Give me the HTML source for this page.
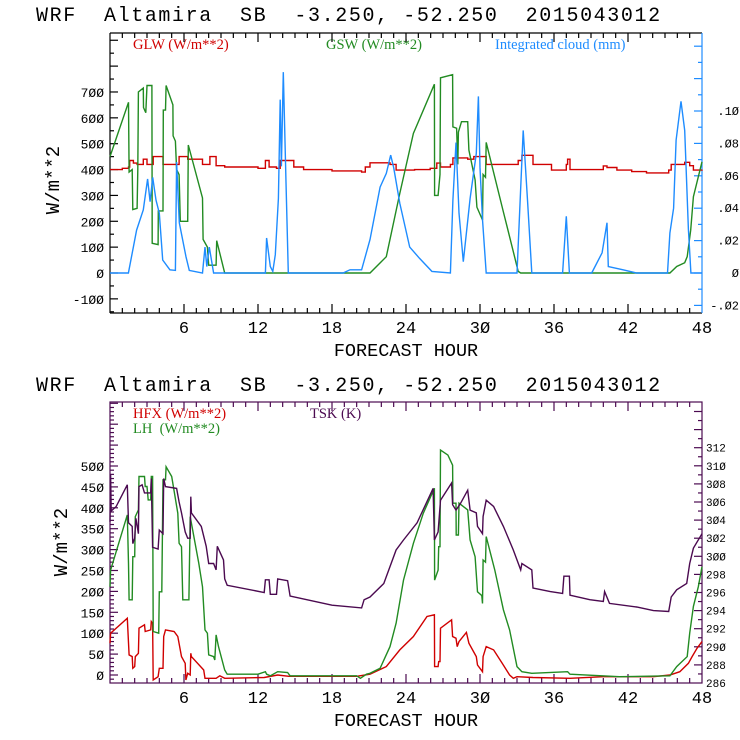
<!DOCTYPE html>
<html><head><meta charset="utf-8"><style>
html,body{margin:0;padding:0;background:#fff;}
svg{display:block;}
text{white-space:pre;}
.t{font-family:"Liberation Mono",monospace;}
.s{font-family:"Liberation Serif",serif;}
</style></head><body>
<svg id="c" width="740" height="740" viewBox="0 0 740 740" xmlns="http://www.w3.org/2000/svg" xml:space="preserve">
<rect width="740" height="740" fill="#fff"/>
<text class="t" x="36" y="21" font-size="20" letter-spacing="1.6" fill="#000">WRF  Altamira  SB  -3.250, -52.250  2015043012</text>
<text class="t" x="36" y="391" font-size="20" letter-spacing="1.6" fill="#000">WRF  Altamira  SB  -3.250, -52.250  2015043012</text>
<text class="s" x="133" y="49" font-size="14.5" fill="#d00000">GLW (W/m**2)</text>
<text class="s" x="326" y="49" font-size="14.5" fill="#228b22">GSW (W/m**2)</text>
<text class="s" x="495" y="49" font-size="14.5" fill="#1e8cff">Integrated cloud (mm)</text>
<text class="s" x="133" y="418" font-size="14.5" fill="#d00000">HFX (W/m**2)</text>
<text class="s" x="133" y="433" font-size="14.5" fill="#228b22">LH  (W/m**2)</text>
<text class="s" x="310" y="418" font-size="14.5" fill="#4b0a50">TSK (K)</text>
<text class="t" font-size="19" transform="translate(59,180) rotate(-90)" text-anchor="middle" fill="#000">W/m**2</text>
<text class="t" font-size="19" transform="translate(67,542) rotate(-90)" text-anchor="middle" fill="#000">W/m**2</text>
<text class="t" x="406" y="356" font-size="18.5" text-anchor="middle" fill="#000">FORECAST HOUR</text>
<text class="t" x="406" y="726" font-size="18.5" text-anchor="middle" fill="#000">FORECAST HOUR</text>
<g id="g"></g>
</svg>
<script>
// ---- top chart data ----
const glwHours = [0,1.0,1.5,1.6,1.9,2.2,2.7,3.0,3.5,4.3,5.6,6.3,7.5,8.1,8.6,9.3,12.0,12.6,12.9,13.5,13.8,14.9,15.7,18,20.4,20.7,21.08,22.7,23.2,24.7,25.96,26.5,26.8,27.6,27.8,29.0,29.5,30.5,33.1,33.4,34.3,35.8,37.0,37.1,37.3,40.0,40.3,41.1,42.3,43.5,45.3,45.5,46.6,47.0,47.3,48];
const glwValues = [400,405,410,435,425,420,440,420,450,420,450,440,420,450,415,410,405,435,410,405,435,410,400,395,390,410,426,420,398,400,405,425,410,420,445,440,450,420,435,455,420,398,420,440,400,414,408,398,392,387,398,420,428,415,398,400];
const gswHours = [0,1.5,1.55,1.8,1.85,2.2,2.25,2.3,2.7,2.72,2.9,3.0,3.4,3.42,3.9,3.92,4.3,4.32,4.5,4.55,5.1,5.12,5.3,5.4,5.6,5.7,6.3,6.35,7.5,7.55,7.9,8.0,8.6,8.65,9.3,21.08,22.4,23.5,24.6,26.3,26.32,26.6,26.76,26.8,27.78,27.8,28.1,28.2,28.25,28.5,29.0,29.1,29.6,29.75,30.2,30.25,30.45,30.5,31.9,32.3,33.1,33.3,45.4,45.95,46.6,46.8,47.08,47.3,48];
const gswValues = [450,660,390,400,245,250,400,700,715,640,620,725,725,115,110,240,240,630,630,725,650,530,510,400,380,200,200,495,290,130,100,30,30,125,0,0,63,308,540,730,300,300,381,755,767,565,560,420,545,585,585,475,360,255,205,381,370,505,236,159,6,0,0,25,40,63,166,295,430];
const cloudHours = [0,1.49,2.16,2.7,3.05,3.25,3.46,3.73,4.0,4.27,4.86,5.3,5.4,5.62,6.16,6.43,7.5,7.7,7.85,8.05,8.4,12.6,12.7,13.0,13.2,13.4,13.65,13.8,13.9,14.05,14.27,14.46,18.9,19.46,20.4,21.08,21.9,22.4,22.76,23.0,23.5,24.3,25.1,26.1,27.6,27.8,28.05,28.3,28.65,29.2,29.7,29.87,30.0,30.2,30.5,33.0,33.5,33.85,34.2,36.7,37.0,37.25,39.06,39.9,40.3,40.4,41.6,42.7,45.2,45.4,45.7,45.9,46.3,46.6,46.9,47.1,48];
const cloudValues = [0,0,0.0265,0.039,0.058,0.044,0.059,0.045,0.037,0.008,0.002,0.0016,0.0685,0.031,0.010,0.0016,0,0.016,0.004,0.016,0,0,0.0216,0.004,0.001,0.0113,0.046,0.107,0.0658,0.124,0.056,0,0,0.002,0.002,0.0206,0.053,0.0615,0.0728,0.065,0.043,0.016,0.009,0.001,0,0.045,0.0805,0.037,0.007,0.046,0.0738,0.109,0.065,0.033,0,0,0.088,0.045,0,0,0.035,0,0,0.0125,0.031,0.004,0.002,0,0,0.0247,0.04,0.082,0.106,0.088,0.027,0,0];
const topLeftTicks = [-100,0,100,200,300,400,500,600,700];
const topRightTicks = [-0.02,0,0.02,0.04,0.06,0.08,0.10];
const topRightLabels = ['-.02','0','.02','.04','.06','.08','.10'];
const xTickHours = [6,12,18,24,30,36,42,48];
// ---- bottom chart data ----
const tskHours = [0,0.05,0.1,0.5,1.4,1.5,1.8,1.85,2.0,2.1,2.3,2.35,2.6,2.8,3.3,3.35,3.45,3.9,4.0,4.3,4.35,4.5,5.4,5.6,5.8,6.1,6.3,6.5,6.55,6.6,7.4,7.8,8.0,8.4,8.6,8.7,9.2,9.3,9.5,12.5,12.6,12.9,13.0,13.5,13.6,14.4,14.6,18,20.4,20.6,21.08,22.2,23.2,23.8,24.9,26.2,26.3,26.6,26.8,27.7,27.78,28.05,28.4,29.0,29.2,29.7,29.8,30.2,30.25,30.5,31.1,31.9,32.7,33.3,33.4,34.2,34.3,35.7,36.7,36.8,37.25,37.3,38.9,40.0,40.1,40.5,42.7,44.06,45.3,45.5,45.95,46.76,47.0,47.3,48];
const tskValues = [303.8,309.0,305,305.5,307.9,303.7,303.3,301.4,302.0,304.2,302.5,307.7,307.9,307.0,307.0,308.6,301.0,300.8,302.9,302.5,308.6,307.7,307.5,306.0,304.8,302.7,302.0,302.0,306.6,304.8,303.3,301.1,299.2,299.2,298.5,301.1,299.6,297.5,296.8,296.0,297.4,297.4,295.8,295.8,297.5,297.3,295.6,294.6,294.3,295.2,295.5,297.0,300.7,301.8,303.7,307.5,301.8,302.7,306.2,308.1,305.7,305.1,305.8,307.3,305.1,304.8,303.3,302.5,304.4,306.2,305.5,303.3,300.7,298.5,299.2,298.5,296.5,296.1,295.9,297.8,297.8,295.7,295.2,295.0,296.1,294.8,294.4,294.0,293.9,295.5,296.3,297.0,299.2,300.9,302.5];
const lhHours = [0,0.05,1.4,1.5,1.55,1.8,1.85,2.0,2.05,2.3,2.35,2.8,2.85,3.0,3.1,3.3,3.35,3.45,3.5,3.95,4.0,4.2,4.3,4.5,4.55,5.0,5.5,5.6,5.8,5.9,6.4,6.5,7.2,7.5,7.7,7.9,8.0,8.4,8.5,8.6,8.8,9.3,9.5,12.0,12.6,12.7,13.0,13.6,14.4,14.6,20,20.3,20.8,21.08,21.9,22.7,23.2,23.8,24.6,25.4,26.3,26.32,26.6,26.65,26.76,26.8,27.4,27.78,27.8,28.05,28.07,28.25,28.3,29.0,29.2,29.6,29.8,30.15,30.2,30.25,30.45,30.5,31.2,31.9,32.4,33.0,33.4,34.2,37.1,37.3,41.3,45.4,45.95,46.8,47.0,47.3,47.7,48];
const lhValues = [211,251,383,267,180,180,283,283,379,395,475,475,451,451,419,419,475,475,104,100,199,199,467,467,498,475,387,315,307,180,180,379,267,211,108,100,48,44,36,96,68,12,2,2,8,2,-2,8,6,-2,-2,-8,2,4,16,68,124,227,315,387,447,227,251,307,307,538,526,502,411,411,335,335,411,395,323,283,199,190,171,275,270,331,251,156,108,20,8,4,8,2,-4,-2,20,44,100,164,211,259];
const hfxHours = [0,0.05,1.4,1.55,1.8,1.85,2.0,2.05,2.3,2.35,2.8,2.85,3.3,3.35,3.45,3.5,3.9,4.0,4.3,4.35,4.5,5.2,5.5,5.8,6.1,6.15,6.3,6.5,6.55,6.6,7.6,7.7,8.6,8.9,9.3,12.5,13.6,14.5,20,21.08,22.4,23.5,24.6,25.7,26.3,26.32,26.6,26.65,26.76,26.8,27.7,27.78,28.05,28.15,28.3,28.9,29.1,29.7,29.8,30.2,30.25,30.5,31.1,31.8,32.4,32.7,33.0,34.3,37.3,40,44.06,45.4,46.2,46.9,47.2,47.6,48];
const hfxValues = [76,100,136,48,44,16,20,44,52,112,120,104,108,128,124,-12,-4,16,16,92,108,104,92,44,28,-12,4,0,52,44,12,-8,-8,-2,-8,-6,0,-3,-3,2,20,60,92,140,144,20,20,32,32,112,132,92,88,68,80,102,76,44,24,8,44,68,60,28,0,-8,-4,-6,-8,-4,-4,0,8,28,44,64,80];
const botLeftTicks = [0,50,100,150,200,250,300,350,400,450,500];
const botRightTicks = [286,288,290,292,294,296,298,300,302,304,306,308,310,312];

const L=110,R=702;
function xAx(h){return L+h*(R-L)/48;}
function yTopL(v){return 273-v*0.2586;}
function yTopR(m){return 273-m*1620;}
function yBotL(v){return 675-v*0.418;}
function yBotR(k){return 683-(k-286)*9.05;}
const NS='http://www.w3.org/2000/svg';
const g=document.getElementById('g');
function mk(tag,attrs){const e=document.createElementNS(NS,tag);for(const k in attrs)e.setAttribute(k,attrs[k]);g.appendChild(e);return e;}
function line(x1,y1,x2,y2,c){return mk('line',{x1:x1,y1:y1,x2:x2,y2:y2,stroke:c,'stroke-width':1.2});}
function txt(x,y,s,size,anchor,c){const e=mk('text',{x:x,y:y,'font-size':size,'text-anchor':anchor,fill:c,class:'t'});e.textContent=s;return e;}
function path(hs,vs,fx,fy,c,step){let d='';for(let i=0;i<hs.length;i++){const x=fx(hs[i]).toFixed(1),y=fy(vs[i]).toFixed(1);if(i===0)d='M'+x+','+y;else if(step){d+='H'+x+'V'+y;}else d+='L'+x+','+y;}return mk('path',{d:d,fill:'none',stroke:c,'stroke-width':1.4,'stroke-linejoin':'miter'});}

// ---- top frame ----
let e;
e=line(L,33,L,313,'#000');


e=line(L,33,R,33,'#000');


e=line(L,313,R,313,'#000');


e=line(R,33,R,313,'#1e8cff');


for(let h=1;h<48;h++){const len=h%6===0?9:5;line(xAx(h),313,xAx(h),313-len,'#000');line(xAx(h),33,xAx(h),33+len,'#000');}
for(let v=-150;v<=900;v+=50){const len=v%100===0?8:4;line(L,yTopL(v),L+len,yTopL(v),'#000');}
for(let i=-2;i<=16;i++){const m=i/100;const y=yTopR(m);if(y<34||y>312)continue;const len=i%2===0?8:4;line(R,y,R-len,y,'#1e8cff');}
topLeftTicks.forEach(v=>{e=txt(104,yTopL(v)+5,String(v).replace(/0/g,'Ø'),13,'end','#000');

});
topRightTicks.forEach((m,i)=>{e=txt(739,yTopR(m)+4,topRightLabels[i].replace(/0/g,'Ø'),12,'end','#000');

});
xTickHours.forEach(h=>{e=txt(xAx(h),333,String(h).replace(/0/g,'Ø'),17,'middle','#000');

});
e=path(glwHours,glwValues,xAx,yTopL,'#d00000',true);


e=path(gswHours,gswValues,xAx,yTopL,'#228b22',false);


e=path(cloudHours,cloudValues,xAx,yTopR,'#1e8cff',false);



// ---- bottom frame ----
const P='#4b0a50';
e=mk('rect',{x:L,y:402,width:R-L,height:281,fill:'none',stroke:P,'stroke-width':1.2});


for(let h=1;h<48;h++){const len=h%6===0?9:5;line(xAx(h),683,xAx(h),683-len,P);line(xAx(h),402,xAx(h),402+len,P);}
for(let v=-10;v<=650;v+=10){const y=yBotL(v);if(y<403||y>682)continue;const len=v%50===0?8:4;line(L,y,L+len,y,P);}
for(let k=287;k<=318;k++){const y=yBotR(k);if(y<403)continue;const len=k%2===0?8:4;line(R,y,R-len,y,P);}
botLeftTicks.forEach(v=>{e=txt(104,yBotL(v)+5,String(v).replace(/0/g,'Ø'),13,'end','#000');

});
botRightTicks.forEach(k=>{e=txt(706,yBotR(k)+4,String(k).replace(/0/g,'Ø'),11,'start','#000');

});
xTickHours.forEach(h=>{e=txt(xAx(h),703,String(h).replace(/0/g,'Ø'),17,'middle','#000');

});
e=path(hfxHours,hfxValues,xAx,yBotL,'#d00000',false);


e=path(lhHours,lhValues,xAx,yBotL,'#228b22',false);


e=path(tskHours,tskValues,xAx,yBotR,P,false);


</script>
</body></html>
